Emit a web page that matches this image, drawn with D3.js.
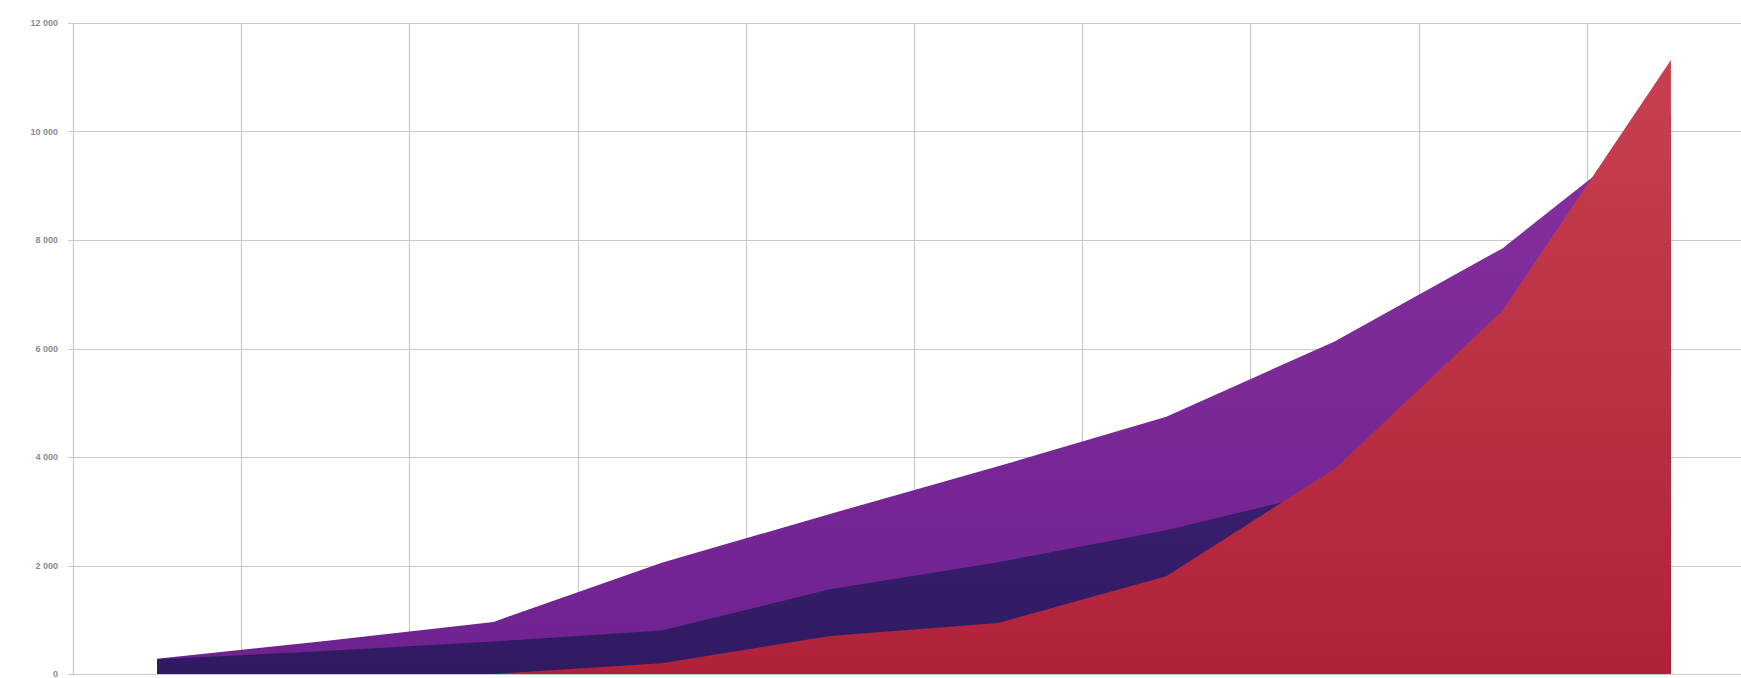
<!DOCTYPE html>
<html>
<head>
<meta charset="utf-8">
<script src="https://cdn.jsdelivr.net/npm/d3@7"></script>
<style>
  html, body { margin: 0; padding: 0; background: #fff; overflow: hidden; }
  svg { display: block; }
</style>
</head>
<body>
<div id="chart"></div>
<script>
// data (x labels are cut off in the reference)
const categories = ['1', '2', '3', '4', '5', '6', '7', '8', '9', '10'];
const purpleValues = [280, 610, 960, 2050, 2950, 3830, 4740, 6130, 7850, 10300];
const navyValues = [270, 425, 600, 800, 1560, 2060, 2650, 3400, 4600, 5600];
const redValues = [0, 0, 0, 200, 700, 940, 1800, 3780, 6700, 11320];
const yTicks = [0, 2000, 4000, 6000, 8000, 10000, 12000];

const width = 1741;
const height = 678;

const svg = d3.select('#chart')
  .append('svg')
  .attr('width', width)
  .attr('height', height);

// plot runs past the right edge of the picture, like the reference crop
const x = d3.scaleBand().domain(categories).range([73, 1755]);
const y = d3.scaleLinear().domain([0, 12000]).range([674, 23]);
const cx = (d, i) => x(categories[i]) + x.bandwidth() / 2;

// gradients
const defs = svg.append('defs');
const grad = (id, top, bottom) => {
  const g = defs.append('linearGradient')
    .attr('id', id)
    .attr('x1', 0).attr('y1', 0).attr('x2', 0).attr('y2', 1);
  g.append('stop').attr('offset', '0%').attr('stop-color', top);
  g.append('stop').attr('offset', '100%').attr('stop-color', bottom);
};
grad('gPurple', '#86309e', '#6e2290');
grad('gNavy', '#3e2074', '#301a62');
grad('gRed', '#c8404f', '#b0223a');

// grid
const grid = svg.append('g');
grid.selectAll('.hline')
  .data(yTicks)
  .enter()
  .append('line')
  .attr('x1', 68)
  .attr('x2', width)
  .attr('y1', (d) => Math.round(y(d)) + 0.5)
  .attr('y2', (d) => Math.round(y(d)) + 0.5)
  .attr('stroke', '#c8c8d0')
  .attr('stroke-width', 1.2);

const bounds = categories.map((c) => x(c)).concat([x.range()[1]]);
grid.selectAll('.vline')
  .data(bounds)
  .enter()
  .append('line')
  .attr('x1', (d) => Math.round(d) + 0.5)
  .attr('x2', (d) => Math.round(d) + 0.5)
  .attr('y1', y(12000))
  .attr('y2', y(0))
  .attr('stroke', '#c8c8d0')
  .attr('stroke-width', 1.2);

// y labels
svg.append('g')
  .selectAll('text')
  .data(yTicks)
  .enter()
  .append('text')
  .attr('x', 58)
  .attr('y', (d) => y(d) + 3)
  .attr('text-anchor', 'end')
  .style('font-family', 'Arial, "Liberation Sans", sans-serif')
  .style('font-size', '9px')
  .style('font-weight', 'bold')
  .style('fill', '#8a8a90')
  .text((d) => d === 0 ? '0' : d3.format(',')(d).replace(',', ' '));

// overlapping areas, back to front
const area = d3.area()
  .x(cx)
  .y0(y(0))
  .y1((d) => y(d));

const series = [
  { values: purpleValues, fill: 'url(#gPurple)' },
  { values: navyValues, fill: 'url(#gNavy)' },
  { values: redValues, fill: 'url(#gRed)' }
];

svg.append('g')
  .selectAll('path')
  .data(series)
  .enter()
  .append('path')
  .attr('d', (d) => area(d.values))
  .attr('fill', (d) => d.fill);
</script>
</body>
</html>
